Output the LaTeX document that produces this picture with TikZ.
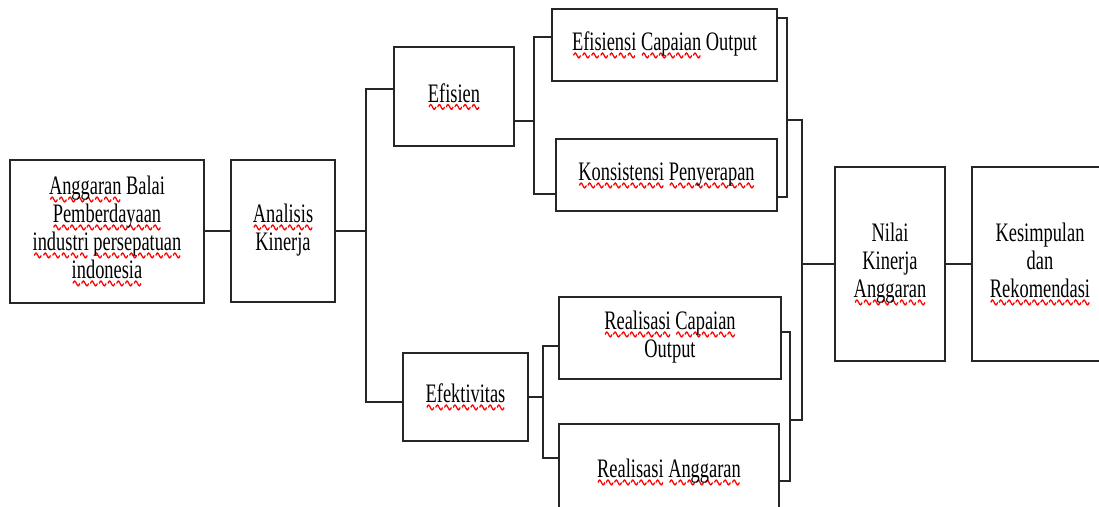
\documentclass[tikz,border=0pt]{standalone}
\usepackage{fontspec}
\setmainfont{Liberation Serif}
\usepackage{graphicx}

\newsavebox\wavebox
\def\sq#1{\setbox0\hbox{#1}\rlap{\smash{\lower5.5pt\hbox to\wd0{\xleaders\copy\wavebox\hfil}}}\box0\relax}
\def\lbl#1{\scalebox{1}[1.45]{\begin{tabular}{@{}c@{}}#1\end{tabular}}}

\begin{document}
\sbox\wavebox{\pgfpicture
  \pgfsetlinewidth{1.1pt}\pgfsetstrokecolor{red}
  \pgfpathmoveto{\pgfpoint{0pt}{0pt}}
  \pgfpathsine{\pgfpoint{1.75pt}{1.6pt}}\pgfpathcosine{\pgfpoint{1.75pt}{-1.6pt}}
  \pgfpathsine{\pgfpoint{1.75pt}{-1.6pt}}\pgfpathcosine{\pgfpoint{1.75pt}{1.6pt}}
  \pgfusepath{stroke}\endpgfpicture}%
\begin{tikzpicture}[x=1pt,y=-1pt,line width=2pt,draw=black!85,
  box/.style={draw=black!85,inner sep=0pt,font=\fontsize{18.4}{19.3}\selectfont}]
  \useasboundingbox (0,0) rectangle (1099,506);

  % boxes
  \node[box,minimum width=194pt,minimum height=143pt] (ang) at (107,231)
    {\lbl{\sq{Anggaran} Balai\\ \sq{Pemberdayaan}\\ \sq{industri} \sq{persepatuan}\\ \sq{indonesia}}};
  \node[box,minimum width=104pt,minimum height=142pt] (ana) at (283,231)
    {\lbl{\sq{Analisis}\\ Kinerja}};
  \node[box,minimum width=120pt,minimum height=99pt] (efs) at (454,96.5)
    {\lbl{\sq{Efisien}}};
  \node[box,minimum width=125pt,minimum height=88pt] (eft) at (465.5,397)
    {\lbl{\sq{Efektivitas}}};
  \node[box,minimum width=225pt,minimum height=72pt] (eco) at (664.5,45)
    {\lbl{\sq{Efisiensi} \sq{Capaian} Output}};
  \node[box,minimum width=221pt,minimum height=72pt] (kon) at (666.5,175)
    {\lbl{\sq{Konsistensi} \sq{Penyerapan}}};
  \node[box,minimum width=222pt,minimum height=82pt] (rco) at (670,338)
    {\lbl{\sq{Realisasi} \sq{Capaian}\\ Output}};
  \node[box,minimum width=220pt,minimum height=96pt] (rag) at (669,472)
    {\lbl{\sq{Realisasi} \sq{Anggaran}}};
  \node[box,minimum width=110pt,minimum height=194pt] (nil) at (890,264)
    {\lbl{Nilai\\ Kinerja\\ \sq{Anggaran}}};
  \node[box,minimum width=136pt,minimum height=194pt] (kes) at (1040,264)
    {\lbl{Kesimpulan\\ dan\\ \sq{Rekomendasi}}};

  % junctions
  \coordinate (b1) at (366,231);
  \coordinate (b2) at (534,121);
  \coordinate (b3) at (787,120);
  \coordinate (b4) at (543,397);
  \coordinate (b6) at (790,420);
  \coordinate (b5) at (802,264);

  % connectors
  \draw (ang.east) -- (ana.west);
  \draw (ana.east) -- (b1);
  \draw ([yshift=8pt]efs.west) -| (b1) |- ([yshift=-5pt]eft.west);

  \draw ([yshift=-24.5pt]efs.east) -- (b2);
  \draw ([yshift=8pt]eco.west) -| (b2) |- ([yshift=-19pt]kon.west);
  \draw ([yshift=27pt]eco.east) -| (b3) |- ([yshift=-22pt]kon.east);

  \draw (eft.east) -- (b4);
  \draw ([yshift=-8pt]rco.west) -| (b4) |- ([yshift=14pt]rag.west);
  \draw ([yshift=6pt]rco.east) -| (b6) |- ([yshift=-9pt]rag.east);

  \draw (b3) -| (b5);
  \draw (b6) -| (b5);
  \draw (b5) -- (nil.west);
  \draw (nil.east) -- (kes.west);

\end{tikzpicture}
\end{document}
